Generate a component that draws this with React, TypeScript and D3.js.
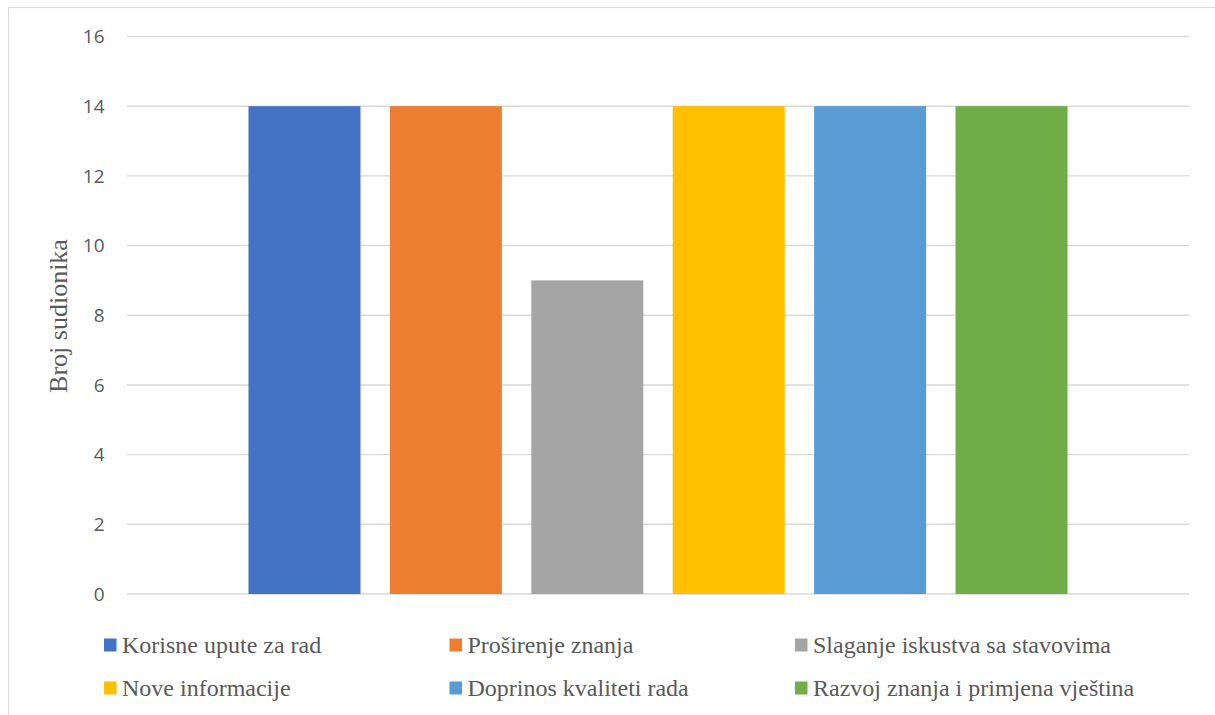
import React from "react";
import * as d3 from "d3";

const seriesNames = [
  "Korisne upute za rad",
  "Proširenje znanja",
  "Slaganje iskustva sa stavovima",
  "Nove informacije",
  "Doprinos kvaliteti rada",
  "Razvoj znanja i primjena vještina",
];
const seriesValues = [14, 14, 9, 14, 14, 14];
const seriesColors = ["#4472C4", "#ED7D31", "#A5A5A5", "#FFC000", "#5B9BD5", "#70AD47"];
const yTicks = [0, 2, 4, 6, 8, 10, 12, 14, 16];
const yTitle = "Broj sudionika";

const W = 1215;
const H = 715;
const plotLeft = 127;
const plotRight = 1189;
const plotTop = 36.5;
const plotBottom = 594;

export default function App() {
  const y = d3.scaleLinear().domain([0, 16]).range([plotBottom, plotTop]);
  const x = d3
    .scaleBand<string>()
    .domain(seriesNames)
    .range([plotLeft, plotRight])
    .paddingInner(0.208)
    .paddingOuter(0.859);

  const legendX0 = 104;
  const legendColStep = 345.5;
  const legendY0 = 638.5;
  const legendRowStep = 43;

  return (
    <svg
      width={W}
      height={H}
      style={{ position: "absolute", left: 0, top: 0 }}
      xmlns="http://www.w3.org/2000/svg"
    >
      <rect x={0} y={0} width={W} height={H} fill="#ffffff" />
      <rect
        x={8.5}
        y={7.5}
        width={W + 20}
        height={H + 20}
        fill="none"
        stroke="#d9d9d9"
        strokeWidth={1.2}
      />
      {yTicks.map((t) => (
        <g key={t}>
          <line
            x1={plotLeft}
            x2={plotRight}
            y1={y(t)}
            y2={y(t)}
            stroke="#d9d9d9"
            strokeWidth={1.4}
          />
          <text
            x={104.5}
            y={y(t)}
            dy="0.36em"
            textAnchor="end"
            fontFamily="'Open Sans', sans-serif"
            fontSize={19}
            fill="#595959"
          >
            {t}
          </text>
        </g>
      ))}
      {seriesNames.map((name, i) => (
        <rect
          key={name}
          x={x(name)}
          y={y(seriesValues[i])}
          width={x.bandwidth()}
          height={y(0) - y(seriesValues[i])}
          fill={seriesColors[i]}
        />
      ))}
      <text
        transform={`translate(58,316) rotate(-90)`}
        textAnchor="middle"
        dy="0.35em"
        fontFamily="'Liberation Serif', 'Times New Roman', serif"
        fontSize={26}
        fill="#595959"
      >
        {yTitle}
      </text>
      {seriesNames.map((name, i) => {
        const col = i % 3;
        const row = Math.floor(i / 3);
        const lx = legendX0 + col * legendColStep;
        const ly = legendY0 + row * legendRowStep;
        return (
          <g key={name}>
            <rect x={lx} y={ly} width={12.5} height={13} fill={seriesColors[i]} />
            <text
              x={lx + 18}
              y={ly + 14}
              fontFamily="'Liberation Serif', 'Times New Roman', serif"
              fontSize={24}
              fill="#595959"
            >
              {name}
            </text>
          </g>
        );
      })}
    </svg>
  );
}
